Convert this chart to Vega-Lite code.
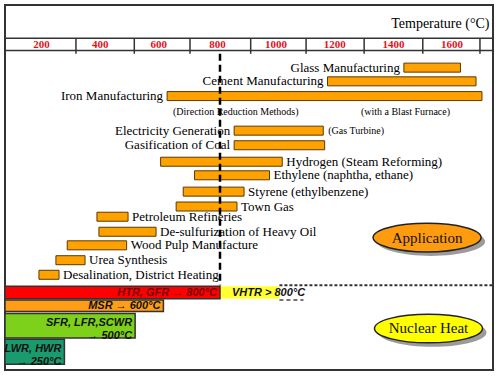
{
  "$schema": "https://vega.github.io/schema/vega-lite/v6.json",
  "width": 488,
  "height": 365,
  "autosize": {"type": "none"},
  "padding": {"left": 5, "top": 5, "right": 7, "bottom": 6},
  "background": "white",
  "config": {"view": {"stroke": "#333", "strokeWidth": 2}},
  "datasets": {
    "apps": [
      {"name": "Glass Manufacturing", "lo": 1450, "hi": 1650, "row": 3.95, "side": "left"},
      {"name": "Cement Manufacturing", "lo": 1180, "hi": 1705, "row": 4.89, "side": "left"},
      {"name": "Iron Manufacturing", "lo": 613, "hi": 1726, "row": 5.9, "side": "left"},
      {"name": "Electricity Generation", "lo": 850, "hi": 1165, "row": 8.27, "side": "left", "note": "(Gas Turbine)"},
      {"name": "Gasification of Coal", "lo": 850, "hi": 1170, "row": 9.27, "side": "left"},
      {"name": "Hydrogen (Steam Reforming)", "lo": 590, "hi": 1020, "row": 10.4, "side": "right"},
      {"name": "Ethylene (naphtha, ethane)", "lo": 710, "hi": 975, "row": 11.33, "side": "right"},
      {"name": "Styrene (ethylbenzene)", "lo": 670, "hi": 885, "row": 12.45, "side": "right"},
      {"name": "Town Gas", "lo": 645, "hi": 860, "row": 13.47, "side": "right"},
      {"name": "Petroleum Refineries", "lo": 365, "hi": 475, "row": 14.17, "side": "right"},
      {"name": "De-sulfurization of Heavy Oil", "lo": 372, "hi": 574, "row": 15.2, "side": "right"},
      {"name": "Wood Pulp Manufacture", "lo": 260, "hi": 470, "row": 16.13, "side": "right"},
      {"name": "Urea Synthesis", "lo": 220, "hi": 323, "row": 17.15, "side": "right"},
      {"name": "Desalination, District Heating", "lo": 160, "hi": 231, "row": 18.15, "side": "right"}
    ],
    "ironNotes": [
      {"t": 634, "row": 6.97, "text": "(Direction Reduction Methods)"},
      {"t": 1298, "row": 6.97, "text": "(with a Blast Furnace)"}
    ],
    "nuclear": [
      {"name": "HTR", "lo": 40, "hi": 800, "row0": 18.93, "row1": 19.8, "mid": 19.37, "label": "HTR, GFR → 800°C"},
      {"name": "MSR", "lo": 40, "hi": 600, "row0": 19.87, "row1": 20.67, "mid": 20.27, "label": "MSR → 600°C"},
      {"name": "SFR", "lo": 40, "hi": 500, "row0": 20.8, "row1": 22.49, "mid": 21.64, "label": "SFR, LFR,SCWR\n→ 500°C"},
      {"name": "LWR", "lo": 40, "hi": 250, "row0": 22.57, "row1": 24.29, "mid": 23.43, "label": "LWR, HWR\n→ 250°C"}
    ],
    "vhtr": [
      {"name": "VHTR", "lo": 800, "hi": 1010, "row0": 18.93, "row1": 19.8, "mid": 19.37, "label": "VHTR > 800°C"}
    ],
    "ellipses": [
      {"name": "Application", "t": 1532, "row": 15.6},
      {"name": "Nuclear Heat", "t": 1537, "row": 21.83}
    ],
    "separators": [
      {"v": 319}, {"v": 518}, {"v": 708}, {"v": 915}, {"v": 1104}, {"v": 1302}, {"v": 1502}, {"v": 1697}
    ],
    "edgeTop": [{"t0": 1010, "t1": 1765, "row": 18.87}],
    "edgeLow": [{"t0": 1010, "t1": 1095, "row": 19.87}],
    "limit": [{"t": 800, "r0": 3.0, "r1": 18.87}]
  },
  "resolve": {"scale": {"x": "independent"}},
  "layer": [
    {
      "layer": [
        {
          "data": {"name": "separators"},
          "mark": {"type": "rule", "color": "#333", "strokeWidth": 1.5},
          "encoding": {
            "x": {
              "field": "v", "type": "quantitative",
              "scale": {"domain": [77, 1741.5], "nice": false, "zero": false},
              "axis": {
                "orient": "top", "offset": -45,
                "values": [200, 400, 600, 800, 1000, 1200, 1400, 1600],
                "format": "d",
                "ticks": false, "grid": false,
                "domain": true, "domainColor": "#333", "domainWidth": 1.5,
                "labelFont": "Liberation Serif", "labelFontWeight": "bold", "labelFontSize": 11,
                "labelColor": "#e3121b", "labelPadding": 3, "labelBaseline": "alphabetic",
                "labelFlush": false, "labelOverlap": false,
                "title": "Temperature (°C)",
                "titleFont": "Liberation Serif", "titleFontSize": 14, "titleFontWeight": "normal",
                "titleColor": "#000", "titleAnchor": "end", "titleAlign": "right",
                "titleX": 484, "titleY": -23, "titleBaseline": "alphabetic"
              }
            },
            "y": {"datum": 1.933, "type": "quantitative", "scale": {"domain": [0, 24.333], "reverse": true, "nice": false, "zero": false}, "axis": null},
            "y2": {"datum": 3.0}
          }
        },
        {
          "data": {"values": [{"row": 1.933}]},
          "mark": {"type": "rule", "color": "#333", "strokeWidth": 1.5},
          "encoding": {
            "y": {"field": "row", "type": "quantitative", "scale": {"domain": [0, 24.333], "reverse": true, "nice": false, "zero": false}, "axis": null}
          }
        }
      ]
    },
    {
      "layer": [
        {
          "data": {"name": "apps"},
          "mark": {"type": "bar", "size": 9, "fill": "#FFA200", "stroke": "#5a3a00", "strokeWidth": 1},
          "encoding": {
            "x": {"field": "lo", "type": "quantitative", "scale": {"domain": [40, 1765], "nice": false, "zero": false}, "axis": null},
            "x2": {"field": "hi"},
            "y": {"field": "row", "type": "quantitative", "scale": {"domain": [0, 24.333], "reverse": true, "nice": false, "zero": false}, "axis": null}
          }
        },
        {
          "data": {"name": "apps"},
          "transform": [{"filter": "datum.side === 'left'"}],
          "mark": {"type": "text", "align": "right", "baseline": "middle", "dx": -4, "font": "Liberation Serif", "fontSize": 13, "color": "#000"},
          "encoding": {
            "x": {"field": "lo", "type": "quantitative"},
            "y": {"field": "row", "type": "quantitative"},
            "text": {"field": "name"}
          }
        },
        {
          "data": {"name": "apps"},
          "transform": [{"filter": "datum.side === 'right'"}],
          "mark": {"type": "text", "align": "left", "baseline": "middle", "dx": 4, "font": "Liberation Serif", "fontSize": 13, "color": "#000"},
          "encoding": {
            "x": {"field": "hi", "type": "quantitative"},
            "y": {"field": "row", "type": "quantitative"},
            "text": {"field": "name"}
          }
        },
        {
          "data": {"name": "apps"},
          "transform": [{"filter": "isValid(datum.note)"}],
          "mark": {"type": "text", "align": "left", "baseline": "middle", "dx": 5, "font": "Liberation Serif", "fontSize": 10, "color": "#000"},
          "encoding": {
            "x": {"field": "hi", "type": "quantitative"},
            "y": {"field": "row", "type": "quantitative"},
            "text": {"field": "note"}
          }
        },
        {
          "data": {"name": "ironNotes"},
          "mark": {"type": "text", "align": "left", "baseline": "middle", "font": "Liberation Serif", "fontSize": 10, "color": "#000"},
          "encoding": {
            "x": {"field": "t", "type": "quantitative"},
            "y": {"field": "row", "type": "quantitative"},
            "text": {"field": "text"}
          }
        },
        {
          "data": {"name": "vhtr"},
          "mark": {"type": "rect", "fill": "#FFFF33"},
          "encoding": {
            "x": {"field": "lo", "type": "quantitative"},
            "x2": {"field": "hi"},
            "y": {"field": "row0", "type": "quantitative"},
            "y2": {"field": "row1"}
          }
        },
        {
          "data": {"name": "nuclear"},
          "mark": {"type": "rect", "stroke": "#333", "strokeWidth": 1.5},
          "encoding": {
            "x": {"field": "lo", "type": "quantitative"},
            "x2": {"field": "hi"},
            "y": {"field": "row0", "type": "quantitative"},
            "y2": {"field": "row1"},
            "fill": {
              "field": "name", "type": "nominal",
              "scale": {"domain": ["HTR", "MSR", "SFR", "LWR"], "range": ["#FF0000", "#FF9E16", "#7DD11A", "#199B6E"]},
              "legend": null
            }
          }
        },
        {
          "data": {"name": "nuclear"},
          "transform": [{"filter": "indexof(datum.label, '\\n') < 0"}],
          "mark": {"type": "text", "align": "right", "baseline": "middle", "dx": -3, "font": "Liberation Sans", "fontSize": 11, "fontWeight": "bold", "fontStyle": "italic"},
          "encoding": {
            "x": {"field": "hi", "type": "quantitative"},
            "y": {"field": "mid", "type": "quantitative"},
            "text": {"field": "label"},
            "color": {"condition": {"test": "datum.name === 'HTR'", "value": "#7a0000"}, "value": "#111111"}
          }
        },
        {
          "data": {"name": "nuclear"},
          "transform": [{"filter": "indexof(datum.label, '\\n') >= 0"}],
          "mark": {"type": "text", "align": "right", "baseline": "middle", "dx": -3, "dy": -2.5, "font": "Liberation Sans", "fontSize": 11, "fontWeight": "bold", "fontStyle": "italic", "lineBreak": "\n", "lineHeight": 13, "color": "#111111"},
          "encoding": {
            "x": {"field": "hi", "type": "quantitative"},
            "y": {"field": "mid", "type": "quantitative"},
            "text": {"field": "label"}
          }
        },
        {
          "data": {"name": "vhtr"},
          "mark": {"type": "text", "align": "left", "baseline": "middle", "dx": 12, "font": "Liberation Sans", "fontSize": 11, "fontWeight": "bold", "fontStyle": "italic", "color": "#111"},
          "encoding": {
            "x": {"field": "lo", "type": "quantitative"},
            "y": {"field": "mid", "type": "quantitative"},
            "text": {"field": "label"}
          }
        },
        {
          "data": {"name": "edgeTop"},
          "mark": {"type": "rule", "color": "#333", "strokeWidth": 2, "strokeDash": [3, 2]},
          "encoding": {
            "x": {"field": "t0", "type": "quantitative"},
            "x2": {"field": "t1"},
            "y": {"field": "row", "type": "quantitative"}
          }
        },
        {
          "data": {"name": "edgeLow"},
          "mark": {"type": "rule", "color": "#444", "strokeWidth": 1.5, "strokeDash": [4, 3]},
          "encoding": {
            "x": {"field": "t0", "type": "quantitative"},
            "x2": {"field": "t1"},
            "y": {"field": "row", "type": "quantitative"}
          }
        },
        {
          "data": {"name": "limit"},
          "mark": {"type": "rule", "color": "#000", "strokeWidth": 2.5, "strokeDash": [7, 4]},
          "encoding": {
            "x": {"field": "t", "type": "quantitative"},
            "y": {"field": "r0", "type": "quantitative"},
            "y2": {"field": "r1"}
          }
        },
        {
          "data": {"name": "ellipses"},
          "mark": {"type": "point", "filled": true, "fill": "#8a8a8a", "opacity": 0.85, "size": 11664, "xOffset": 4, "yOffset": 4, "shape": "M-1,0C-1,-0.1464,-0.5523,-0.265,0,-0.265C0.5523,-0.265,1,-0.1464,1,0C1,0.1464,0.5523,0.265,0,0.265C-0.5523,0.265,-1,0.1464,-1,0Z"},
          "encoding": {
            "x": {"field": "t", "type": "quantitative"},
            "y": {"field": "row", "type": "quantitative"}
          }
        },
        {
          "data": {"name": "ellipses"},
          "mark": {"type": "point", "filled": true, "opacity": 1, "stroke": "#222", "strokeWidth": 1.5, "size": 11664, "shape": "M-1,0C-1,-0.1464,-0.5523,-0.265,0,-0.265C0.5523,-0.265,1,-0.1464,1,0C1,0.1464,0.5523,0.265,0,0.265C-0.5523,0.265,-1,0.1464,-1,0Z"},
          "encoding": {
            "x": {"field": "t", "type": "quantitative"},
            "y": {"field": "row", "type": "quantitative"},
            "fill": {"condition": {"test": "datum.name === 'Application'", "value": "#FF9B0F"}, "value": "#FFFF00"}
          }
        },
        {
          "data": {"name": "ellipses"},
          "mark": {"type": "text", "align": "center", "baseline": "middle", "font": "Liberation Serif", "fontSize": 15, "color": "#111"},
          "encoding": {
            "x": {"field": "t", "type": "quantitative"},
            "y": {"field": "row", "type": "quantitative"},
            "text": {"field": "name"}
          }
        }
      ]
    }
  ]
}
